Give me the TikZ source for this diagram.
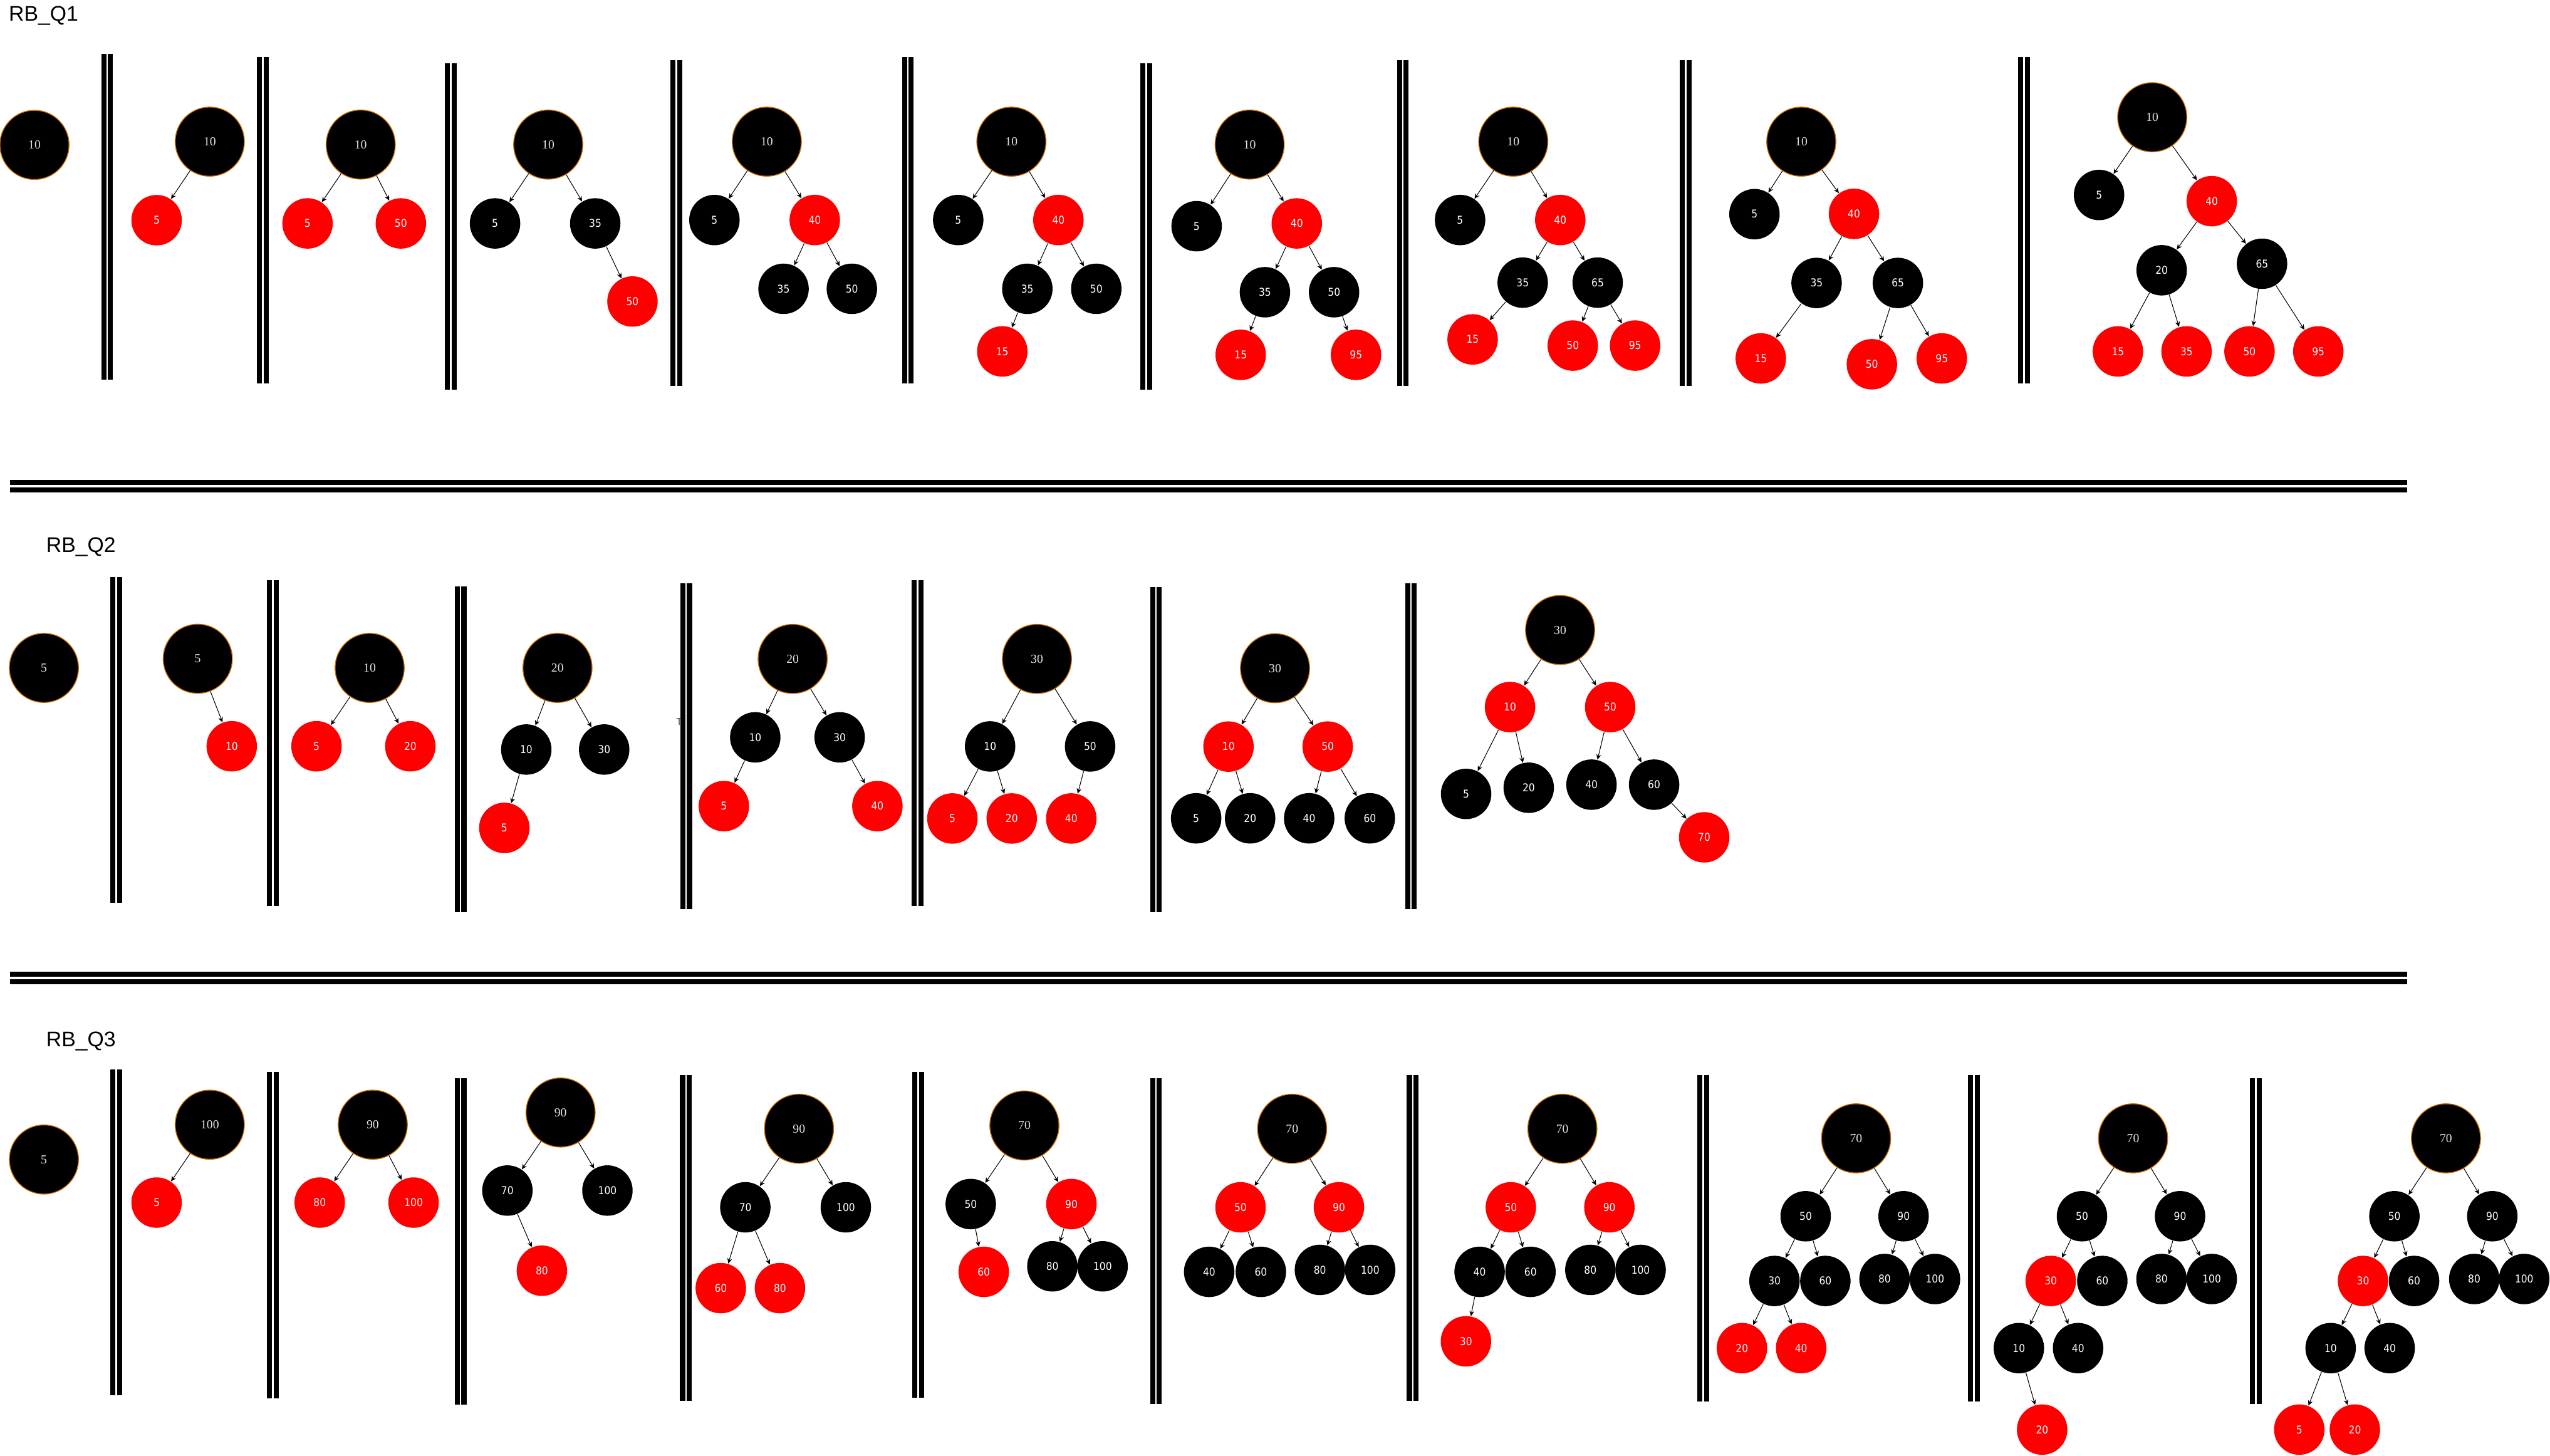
\documentclass[tikz,border=0pt]{standalone}
\usepackage{fontspec}
\usetikzlibrary{arrows.meta}

\newfontfamily\rbsansfamily{Liberation Sans}
\newfontfamily\rbseriffamily{Liberation Serif}
\newfontfamily\rbkidfamily[FakeStretch=0.9]{DejaVu Sans}
\newcommand\rbtitlefont{\rbsansfamily\fontsize{9.6}{11}\selectfont}
\newcommand\rbrootfont{\rbseriffamily\fontsize{5.6}{6}\selectfont}
\newcommand\rbkidfont{\rbkidfamily\fontsize{4.9}{6}\selectfont}

\definecolor{rbred}{RGB}{255,0,0}
\definecolor{rootline}{RGB}{200,110,0}
\definecolor{rootlbl}{RGB}{225,225,225}

\tikzset{
  rootnode/.style={circle, fill=black, draw=rootline, line width=0.4pt,
    minimum size=31.4pt, inner sep=0pt, text=rootlbl, font=\rbrootfont},
  blknode/.style={circle, fill=black, minimum size=22.9pt, inner sep=0pt,
    text=white, font=\rbkidfont},
  rednode/.style={blknode, fill=rbred},
  edge/.style={-{Stealth[length=2.4pt,width=2.2pt]}, line width=0.3pt},
  vsep/.style={draw=black, double=white, line width=2.3pt, double distance=0.75pt},
  hsep/.style={draw=black, double=white, line width=2.25pt, double distance=1pt},
  rbtitle/.style={anchor=base west, inner sep=0pt, font=\rbtitlefont}
}

\begin{document}
\begin{tikzpicture}[x=0.025957cm, y=-0.025957cm]
    \useasboundingbox (0,0) rectangle (1568,895);

    %%% RB_Q1 %%%
    \node[rbtitle] (t1) at (5.2,13.1) {RB\_Q1};
    % Panel 1
    \node[rootnode] (a1-10) at (21.2,89.1) {10};
    % Panel 2
    \node[rootnode] (a2-10) at (129.0,87.1) {10};
    \node[rednode]  (a2-5)  at (96.3,135.4) {5};
    \draw[edge] (a2-10) -- (a2-5);
    % Panel 3
    \node[rootnode] (a3-10) at (221.8,88.9) {10};
    \node[rednode]  (a3-5)  at (189.1,137.4) {5};
    \node[rednode]  (a3-50) at (246.5,137.4) {50};
    \draw[edge] (a3-10) -- (a3-5);
    \draw[edge] (a3-10) -- (a3-50);
    % Panel 4
    \node[rootnode] (a4-10) at (337.1,88.9) {10};
    \node[blknode]  (a4-5)  at (304.4,137.4) {5};
    \node[blknode]  (a4-35) at (366.0,137.4) {35};
    \node[rednode]  (a4-50) at (388.9,185.4) {50};
    \draw[edge] (a4-10) -- (a4-5);
    \draw[edge] (a4-10) -- (a4-35);
    \draw[edge] (a4-35) -- (a4-50);
    % Panel 5
    \node[rootnode] (a5-10) at (471.5,87.1) {10};
    \node[blknode]  (a5-5)  at (439.3,135.3) {5};
    \node[rednode]  (a5-40) at (501.0,135.3) {40};
    \node[blknode]  (a5-35) at (481.8,177.6) {35};
    \node[blknode]  (a5-50) at (523.8,177.6) {50};
    \draw[edge] (a5-10) -- (a5-5);
    \draw[edge] (a5-10) -- (a5-40);
    \draw[edge] (a5-40) -- (a5-35);
    \draw[edge] (a5-40) -- (a5-50);
    % Panel 6
    \node[rootnode] (a6-10) at (621.9,87.1) {10};
    \node[blknode]  (a6-5)  at (589.2,135.3) {5};
    \node[rednode]  (a6-40) at (650.8,135.3) {40};
    \node[blknode]  (a6-35) at (631.7,177.6) {35};
    \node[blknode]  (a6-50) at (674.1,177.6) {50};
    \node[rednode]  (a6-15) at (616.3,216.1) {15};
    \draw[edge] (a6-10) -- (a6-5);
    \draw[edge] (a6-10) -- (a6-40);
    \draw[edge] (a6-40) -- (a6-35);
    \draw[edge] (a6-40) -- (a6-50);
    \draw[edge] (a6-35) -- (a6-15);
    % Panel 7
    \node[rootnode] (a7-10) at (768.4,88.9) {10};
    \node[blknode]  (a7-5)  at (735.8,139.1) {5};
    \node[rednode]  (a7-40) at (797.4,137.4) {40};
    \node[blknode]  (a7-35) at (777.8,179.7) {35};
    \node[blknode]  (a7-50) at (820.3,179.7) {50};
    \node[rednode]  (a7-15) at (762.9,218.2) {15};
    \node[rednode]  (a7-95) at (833.8,218.2) {95};
    \draw[edge] (a7-10) -- (a7-5);
    \draw[edge] (a7-10) -- (a7-40);
    \draw[edge] (a7-40) -- (a7-35);
    \draw[edge] (a7-40) -- (a7-50);
    \draw[edge] (a7-35) -- (a7-15);
    \draw[edge] (a7-50) -- (a7-95);
    % Panel 8
    \node[rootnode] (a8-10) at (930.5,87.1) {10};
    \node[blknode]  (a8-5)  at (897.8,135.3) {5};
    \node[rednode]  (a8-40) at (959.4,135.3) {40};
    \node[blknode]  (a8-35) at (936.3,173.8) {35};
    \node[blknode]  (a8-65) at (982.4,173.8) {65};
    \node[rednode]  (a8-15) at (905.5,208.7) {15};
    \node[rednode]  (a8-50) at (967.1,212.5) {50};
    \node[rednode]  (a8-95) at (1005.4,212.5) {95};
    \draw[edge] (a8-10) -- (a8-5);
    \draw[edge] (a8-10) -- (a8-40);
    \draw[edge] (a8-40) -- (a8-35);
    \draw[edge] (a8-40) -- (a8-65);
    \draw[edge] (a8-35) -- (a8-15);
    \draw[edge] (a8-65) -- (a8-50);
    \draw[edge] (a8-65) -- (a8-95);
    % Panel 9
    \node[rootnode] (a9-10) at (1107.6,87.1) {10};
    \node[blknode]  (a9-5)  at (1078.8,131.7) {5};
    \node[rednode]  (a9-40) at (1140.0,131.5) {40};
    \node[blknode]  (a9-35) at (1117.0,174.0) {35};
    \node[blknode]  (a9-65) at (1167.0,174.0) {65};
    \node[rednode]  (a9-15) at (1082.7,220.4) {15};
    \node[rednode]  (a9-50) at (1151.0,224.0) {50};
    \node[rednode]  (a9-95) at (1194.0,220.4) {95};
    \draw[edge] (a9-10) -- (a9-5);
    \draw[edge] (a9-10) -- (a9-40);
    \draw[edge] (a9-40) -- (a9-35);
    \draw[edge] (a9-40) -- (a9-65);
    \draw[edge] (a9-35) -- (a9-15);
    \draw[edge] (a9-65) -- (a9-50);
    \draw[edge] (a9-65) -- (a9-95);
    % Panel 10
    \node[rootnode] (a10-10) at (1323.4,72.1) {10};
    \node[blknode]  (a10-5)  at (1290.7,119.9) {5};
    \node[rednode]  (a10-40) at (1360.0,123.7) {40};
    \node[blknode]  (a10-20) at (1329.2,166.2) {20};
    \node[blknode]  (a10-65) at (1390.9,162.2) {65};
    \node[rednode]  (a10-15) at (1302.3,216.1) {15};
    \node[rednode]  (a10-35) at (1344.5,216.1) {35};
    \node[rednode]  (a10-50) at (1383.2,216.1) {50};
    \node[rednode]  (a10-95) at (1425.5,216.1) {95};
    \draw[edge] (a10-10) -- (a10-5);
    \draw[edge] (a10-10) -- (a10-40);
    \draw[edge] (a10-40) -- (a10-20);
    \draw[edge] (a10-40) -- (a10-65);
    \draw[edge] (a10-20) -- (a10-15);
    \draw[edge] (a10-20) -- (a10-35);
    \draw[edge] (a10-65) -- (a10-50);
    \draw[edge] (a10-65) -- (a10-95);
    % Separators
    \draw[vsep] (65.9,33.2) -- (65.9,233.5);
    \draw[vsep] (161.6,35.1) -- (161.6,235.6);
    \draw[vsep] (277.2,38.9) -- (277.2,239.6);
    \draw[vsep] (415.9,37.1) -- (415.9,237.4);
    \draw[vsep] (558.2,35.1) -- (558.2,235.6);
    \draw[vsep] (704.8,38.9) -- (704.8,239.6);
    \draw[vsep] (862.6,37.1) -- (862.6,237.4);
    \draw[vsep] (1036.4,37.0) -- (1036.4,237.3);
    \draw[vsep] (1244.6,35.0) -- (1244.6,235.6);

    \draw[hsep] (6.1,299.0) -- (1480,299.0);

    %%% RB_Q2 %%%
    \node[rbtitle] (t2) at (28.2,339.6) {RB\_Q2};
    % Panel 1
    \node[rootnode] (b1-5) at (27.0,410.7) {5};
    % Panel 2
    \node[rootnode] (b2-5)  at (121.6,405.1) {5};
    \node[rednode]  (b2-10) at (142.5,458.9) {10};
    \draw[edge] (b2-5) -- (b2-10);
    % Panel 3
    \node[rootnode] (b3-10) at (227.3,410.7) {10};
    \node[rednode]  (b3-5)  at (194.6,458.9) {5};
    \node[rednode]  (b3-20) at (252.3,458.9) {20};
    \draw[edge] (b3-10) -- (b3-5);
    \draw[edge] (b3-10) -- (b3-20);
    % Panel 4
    \node[rootnode] (b4-20) at (342.8,410.7) {20};
    \node[blknode]  (b4-10) at (323.6,460.9) {10};
    \node[blknode]  (b4-30) at (371.5,460.9) {30};
    \node[rednode]  (b4-5)  at (310.1,509.1) {5};
    \draw[edge] (b4-20) -- (b4-10);
    \draw[edge] (b4-20) -- (b4-30);
    \draw[edge] (b4-10) -- (b4-5);
    % Panel 5
    \node[font=\rbsansfamily\fontsize{4.5}{5}\selectfont, text=black!70, anchor=west, inner sep=0pt] (b-tr) at (415.6,444.0) {Tr};
    \node[rootnode] (b5-20) at (487.4,405.2) {20};
    \node[blknode]  (b5-10) at (464.4,453.4) {10};
    \node[blknode]  (b5-30) at (516.3,453.4) {30};
    \node[rednode]  (b5-5)  at (445.1,495.7) {5};
    \node[rednode]  (b5-40) at (539.5,495.7) {40};
    \draw[edge] (b5-20) -- (b5-10);
    \draw[edge] (b5-20) -- (b5-30);
    \draw[edge] (b5-10) -- (b5-5);
    \draw[edge] (b5-30) -- (b5-40);
    % Panel 6
    \node[rootnode] (b6-30) at (637.6,405.2) {30};
    \node[blknode]  (b6-10) at (608.8,459.0) {10};
    \node[blknode]  (b6-50) at (670.3,459.0) {50};
    \node[rednode]  (b6-5)  at (585.6,503.3) {5};
    \node[rednode]  (b6-20) at (622.1,503.3) {20};
    \node[rednode]  (b6-40) at (658.7,503.3) {40};
    \draw[edge] (b6-30) -- (b6-10);
    \draw[edge] (b6-30) -- (b6-50);
    \draw[edge] (b6-10) -- (b6-5);
    \draw[edge] (b6-10) -- (b6-20);
    \draw[edge] (b6-50) -- (b6-40);
    % Panel 7
    \node[rootnode] (b7-30) at (784.0,410.9) {30};
    \node[rednode]  (b7-10) at (755.4,459.1) {10};
    \node[rednode]  (b7-50) at (816.4,459.1) {50};
    \node[blknode]  (b7-5)  at (735.5,503.2) {5};
    \node[blknode]  (b7-20) at (768.7,503.2) {20};
    \node[blknode]  (b7-40) at (805.0,503.2) {40};
    \node[blknode]  (b7-60) at (842.3,503.2) {60};
    \draw[edge] (b7-30) -- (b7-10);
    \draw[edge] (b7-30) -- (b7-50);
    \draw[edge] (b7-10) -- (b7-5);
    \draw[edge] (b7-10) -- (b7-20);
    \draw[edge] (b7-50) -- (b7-40);
    \draw[edge] (b7-50) -- (b7-60);
    % Panel 8
    \node[rootnode] (b8-30) at (959.3,387.4) {30};
    \node[rednode]  (b8-10) at (928.5,434.8) {10};
    \node[rednode]  (b8-50) at (990.1,434.8) {50};
    \node[blknode]  (b8-5)  at (901.5,488.2) {5};
    \node[blknode]  (b8-20) at (940.0,484.4) {20};
    \node[blknode]  (b8-40) at (978.6,482.5) {40};
    \node[blknode]  (b8-60) at (1017.1,482.5) {60};
    \node[rednode]  (b8-70) at (1047.9,514.9) {70};
    \draw[edge] (b8-30) -- (b8-10);
    \draw[edge] (b8-30) -- (b8-50);
    \draw[edge] (b8-10) -- (b8-5);
    \draw[edge] (b8-10) -- (b8-20);
    \draw[edge] (b8-50) -- (b8-40);
    \draw[edge] (b8-50) -- (b8-60);
    \draw[edge] (b8-60) -- (b8-70);
    % Separators
    \draw[vsep] (71.4,354.8) -- (71.4,555.0);
    \draw[vsep] (167.7,356.9) -- (167.7,557.1);
    \draw[vsep] (283.2,360.7) -- (283.2,560.9);
    \draw[vsep] (421.9,358.8) -- (421.9,559.0);
    \draw[vsep] (564.3,356.9) -- (564.3,557.1);
    \draw[vsep] (710.8,360.8) -- (710.8,561.1);
    \draw[vsep] (867.6,358.8) -- (867.6,559.1);

    \draw[hsep] (6.1,601.4) -- (1480,601.4);

    %%% RB_Q3 %%%
    \node[rbtitle] (t3) at (28.2,643.4) {RB\_Q3};
    % Panel 1
    \node[rootnode] (c1-5) at (27.0,713.0) {5};
    % Panel 2
    \node[rootnode] (c2-100) at (129.0,691.6) {100};
    \node[rednode]  (c2-5)   at (96.3,739.5) {5};
    \draw[edge] (c2-100) -- (c2-5);
    % Panel 3
    \node[rootnode] (c3-90)  at (229.2,691.6) {90};
    \node[rednode]  (c3-80)  at (196.6,739.5) {80};
    \node[rednode]  (c3-100) at (254.3,739.5) {100};
    \draw[edge] (c3-90) -- (c3-80);
    \draw[edge] (c3-90) -- (c3-100);
    % Panel 4
    \node[rootnode] (c4-90)  at (344.7,684.1) {90};
    \node[blknode]  (c4-70)  at (312.0,732.1) {70};
    \node[blknode]  (c4-100) at (373.5,732.1) {100};
    \node[rednode]  (c4-80)  at (333.2,781.4) {80};
    \draw[edge] (c4-90) -- (c4-70);
    \draw[edge] (c4-90) -- (c4-100);
    \draw[edge] (c4-70) -- (c4-80);
    % Panel 5
    \node[rootnode] (c5-90)  at (491.3,694.1) {90};
    \node[blknode]  (c5-70)  at (458.3,742.4) {70};
    \node[blknode]  (c5-100) at (520.1,742.4) {100};
    \node[rednode]  (c5-60)  at (443.2,792.1) {60};
    \node[rednode]  (c5-80)  at (479.6,792.1) {80};
    \draw[edge] (c5-90) -- (c5-70);
    \draw[edge] (c5-90) -- (c5-100);
    \draw[edge] (c5-70) -- (c5-60);
    \draw[edge] (c5-70) -- (c5-80);
    % Panel 6
    \node[rootnode] (c6-70)  at (629.9,692.1) {70};
    \node[blknode]  (c6-50)  at (596.9,740.4) {50};
    \node[rednode]  (c6-90)  at (658.8,740.4) {90};
    \node[rednode]  (c6-60)  at (604.9,782.1) {60};
    \node[blknode]  (c6-80)  at (647.1,778.7) {80};
    \node[blknode]  (c6-100) at (678.0,778.7) {100};
    \draw[edge] (c6-70) -- (c6-50);
    \draw[edge] (c6-70) -- (c6-90);
    \draw[edge] (c6-50) -- (c6-60);
    \draw[edge] (c6-90) -- (c6-80);
    \draw[edge] (c6-90) -- (c6-100);
    % Panel 7
    \node[rootnode] (c7-70)  at (794.5,694.1) {70};
    \node[rednode]  (c7-50)  at (762.8,742.4) {50};
    \node[rednode]  (c7-90)  at (823.3,742.4) {90};
    \node[blknode]  (c7-40)  at (743.5,782.1) {40};
    \node[blknode]  (c7-60)  at (775.3,782.1) {60};
    \node[blknode]  (c7-80)  at (811.6,780.9) {80};
    \node[blknode]  (c7-100) at (842.5,780.9) {100};
    \draw[edge] (c7-70) -- (c7-50);
    \draw[edge] (c7-70) -- (c7-90);
    \draw[edge] (c7-50) -- (c7-40);
    \draw[edge] (c7-50) -- (c7-60);
    \draw[edge] (c7-90) -- (c7-80);
    \draw[edge] (c7-90) -- (c7-100);
    % Panel 8
    \node[rootnode] (c8-70)  at (960.7,694.1) {70};
    \node[rednode]  (c8-50)  at (929.0,742.4) {50};
    \node[rednode]  (c8-90)  at (989.6,742.4) {90};
    \node[blknode]  (c8-40)  at (909.8,782.1) {40};
    \node[blknode]  (c8-60)  at (941.1,782.1) {60};
    \node[blknode]  (c8-80)  at (977.9,780.9) {80};
    \node[blknode]  (c8-100) at (1008.8,780.9) {100};
    \node[rednode]  (c8-30)  at (901.4,824.8) {30};
    \draw[edge] (c8-70) -- (c8-50);
    \draw[edge] (c8-70) -- (c8-90);
    \draw[edge] (c8-50) -- (c8-40);
    \draw[edge] (c8-50) -- (c8-60);
    \draw[edge] (c8-90) -- (c8-80);
    \draw[edge] (c8-90) -- (c8-100);
    \draw[edge] (c8-40) -- (c8-30);
    % Panel 9
    \node[rootnode] (c9-70)  at (1141.3,700.0) {70};
    \node[blknode]  (c9-50)  at (1110.3,747.9) {50};
    \node[blknode]  (c9-90)  at (1170.5,747.9) {90};
    \node[blknode]  (c9-30)  at (1091.1,787.7) {30};
    \node[blknode]  (c9-60)  at (1122.4,787.7) {60};
    \node[blknode]  (c9-80)  at (1158.8,786.5) {80};
    \node[blknode]  (c9-100) at (1189.8,786.5) {100};
    \node[rednode]  (c9-20)  at (1071.1,829.0) {20};
    \node[rednode]  (c9-40)  at (1107.5,829.0) {40};
    \draw[edge] (c9-70) -- (c9-50);
    \draw[edge] (c9-70) -- (c9-90);
    \draw[edge] (c9-50) -- (c9-30);
    \draw[edge] (c9-50) -- (c9-60);
    \draw[edge] (c9-90) -- (c9-80);
    \draw[edge] (c9-90) -- (c9-100);
    \draw[edge] (c9-30) -- (c9-20);
    \draw[edge] (c9-30) -- (c9-40);
    % Panel 10
    \node[rootnode] (c10-70)  at (1311.6,700.0) {70};
    \node[blknode]  (c10-50)  at (1280.2,747.9) {50};
    \node[blknode]  (c10-90)  at (1340.5,747.9) {90};
    \node[rednode]  (c10-30)  at (1261.0,787.7) {30};
    \node[blknode]  (c10-60)  at (1292.7,787.7) {60};
    \node[blknode]  (c10-80)  at (1329.1,786.5) {80};
    \node[blknode]  (c10-100) at (1360.0,786.5) {100};
    \node[blknode]  (c10-10)  at (1241.4,829.0) {10};
    \node[blknode]  (c10-40)  at (1277.8,829.0) {40};
    \node[rednode]  (c10-20)  at (1255.7,879.1) {20};
    \draw[edge] (c10-70) -- (c10-50);
    \draw[edge] (c10-70) -- (c10-90);
    \draw[edge] (c10-50) -- (c10-30);
    \draw[edge] (c10-50) -- (c10-60);
    \draw[edge] (c10-90) -- (c10-80);
    \draw[edge] (c10-90) -- (c10-100);
    \draw[edge] (c10-30) -- (c10-10);
    \draw[edge] (c10-30) -- (c10-40);
    \draw[edge] (c10-10) -- (c10-20);
    % Panel 11
    \node[rootnode] (c11-70)  at (1504.0,700.0) {70};
    \node[blknode]  (c11-50)  at (1472.3,747.9) {50};
    \node[blknode]  (c11-90)  at (1532.5,747.9) {90};
    \node[rednode]  (c11-30)  at (1453.0,787.7) {30};
    \node[blknode]  (c11-60)  at (1484.4,787.7) {60};
    \node[blknode]  (c11-80)  at (1521.4,786.5) {80};
    \node[blknode]  (c11-100) at (1552.1,786.5) {100};
    \node[blknode]  (c11-10)  at (1433.1,829.0) {10};
    \node[blknode]  (c11-40)  at (1469.4,829.0) {40};
    \node[rednode]  (c11-5)   at (1413.8,879.1) {5};
    \node[rednode]  (c11-20)  at (1448.0,879.1) {20};
    \draw[edge] (c11-70) -- (c11-50);
    \draw[edge] (c11-70) -- (c11-90);
    \draw[edge] (c11-50) -- (c11-30);
    \draw[edge] (c11-50) -- (c11-60);
    \draw[edge] (c11-90) -- (c11-80);
    \draw[edge] (c11-90) -- (c11-100);
    \draw[edge] (c11-30) -- (c11-10);
    \draw[edge] (c11-30) -- (c11-40);
    \draw[edge] (c11-10) -- (c11-5);
    \draw[edge] (c11-10) -- (c11-20);
    % Separators
    \draw[vsep] (71.4,657.5) -- (71.4,857.8);
    \draw[vsep] (167.7,659.3) -- (167.7,859.7);
    \draw[vsep] (283.2,663.1) -- (283.2,863.8);
    \draw[vsep] (421.8,661.1) -- (421.8,861.3);
    \draw[vsep] (564.6,659.1) -- (564.6,859.6);
    \draw[vsep] (710.8,663.1) -- (710.8,863.5);
    \draw[vsep] (868.7,661.1) -- (868.7,861.3);
    \draw[vsep] (1047.4,661.1) -- (1047.4,861.9);
    \draw[vsep] (1213.7,661.1) -- (1213.7,861.9);
    \draw[vsep] (1387.2,663.1) -- (1387.2,863.5);
\end{tikzpicture}
\end{document}
